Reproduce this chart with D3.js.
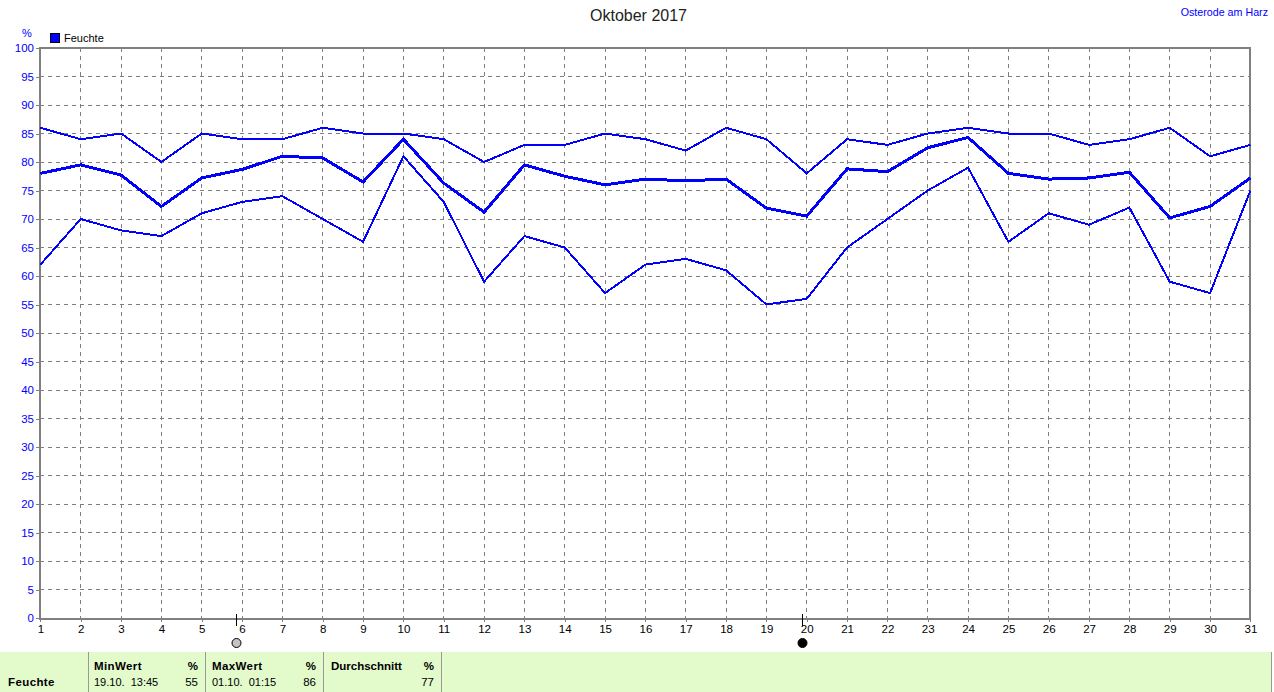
<!DOCTYPE html>
<html><head><meta charset="utf-8">
<script src="https://cdn.jsdelivr.net/npm/d3@7"></script>
<style>html,body{margin:0;padding:0;background:#fff}svg{display:block}text{font-family:"Liberation Sans",Arial,sans-serif}</style>
</head><body><div id="c"></div>
<script>
const days = d3.range(1,32);
const maxValues = [86,84,85,80,85,84,84,86,85,85,84,80,83,83,85,84,82,86,84,78,84,83,85,86,85,85,83,84,86,81,83];
const avgValues = [78,79.5,77.7,72.2,77.2,78.7,81,80.7,76.5,84,76.3,71.2,79.5,77.5,76,77,76.7,77,71.9,70.5,78.8,78.3,82.5,84.3,78,77,77.2,78.2,70.2,72.2,77.2];
const minValues = [62,70,68,67,71,73,74,70,66,81,73,59,67,65,57,62,63,61,55,56,65,70,75,79,66,71,69,72,59,57,75];
const yTicks = d3.range(0,101,5);
const moons = [{day:5.85,type:"full"},{day:19.88,type:"new"}];
const title = "Oktober 2017", station = "Osterode am Harz", seriesName = "Feuchte", unit = "%";
const panelColumns = [
 {x0:88,x1:205,pad:6,ls:0.4,head:"MinWert",when:"19.10.  13:45",val:"55"},
 {x0:205,x1:323,pad:7,ls:0.4,head:"MaxWert",when:"01.10.  01:15",val:"86"},
 {x0:323,x1:441,pad:8,ls:0,head:"Durchschnitt",when:"",val:"77"}];

const W=1274,H=692, L=40, R=1250, T=48, B=618;
const x=d3.scaleLinear().domain([1,31]).range([L+0.4,R+0.4]);
const y=d3.scaleLinear().domain([0,100]).range([B,T]);
const svg=d3.select("#c").append("svg").attr("width",W).attr("height",H);
const blue="#0000ff", grey="#808080";

const gy=svg.append("g").attr("transform",`translate(${L},0)`)
 .call(d3.axisLeft(y).tickValues(yTicks).tickSize(4).tickPadding(2));
gy.select(".domain").remove();
gy.selectAll("line").attr("stroke",grey).attr("shape-rendering","crispEdges");
gy.selectAll("text").attr("fill",blue).style("font-size","11.5px").style("font-family",'"Liberation Sans"');
const gx=svg.append("g").attr("transform",`translate(0,${B})`)
 .call(d3.axisBottom(x).tickValues(days).tickFormat(d3.format("d")).tickSize(4).tickPadding(3));
gx.select(".domain").remove();
gx.selectAll("line").attr("stroke",grey).attr("shape-rendering","crispEdges");
gx.selectAll("text").attr("fill","#000").style("font-size","11.5px").style("font-family",'"Liberation Sans"');

const grid=svg.append("g").attr("stroke",grey).attr("stroke-dasharray","4 4").attr("shape-rendering","crispEdges");
grid.selectAll(".h").data(yTicks.slice(1,-1)).join("line").attr("x1",L).attr("x2",R).attr("y1",d=>y(d)).attr("y2",d=>y(d));
grid.selectAll(".v").data(days.slice(1,-1)).join("line").attr("y1",T).attr("y2",B).attr("x1",d=>x(d)).attr("x2",d=>x(d));

svg.append("rect").attr("x",L-0.5).attr("y",T-0.5).attr("width",R-L).attr("height",B-T+1)
 .attr("fill","none").attr("stroke",grey).attr("stroke-width",2).attr("shape-rendering","crispEdges");

const line=d3.line().x((d,i)=>x(days[i])).y(d=>y(d));
[[maxValues,2],[minValues,2],[avgValues,3]].forEach(([v,w])=>{
 svg.append("path").datum(v).attr("d",line).attr("fill","none").attr("stroke",blue).attr("stroke-width",w).attr("stroke-linejoin","miter").attr("shape-rendering","crispEdges");
});

svg.append("text").attr("x",638.5).attr("y",21).attr("text-anchor","middle").style("font-size","16px").attr("fill","#222").text(title);
svg.append("text").attr("x",1268).attr("y",16).attr("text-anchor","end").style("font-size","10.7px").attr("fill",blue).text(station);
svg.append("text").attr("x",27).attr("y",37).attr("text-anchor","middle").style("font-size","11px").attr("fill",blue).text(unit);
svg.append("rect").attr("x",50.5).attr("y",33.5).attr("width",9).attr("height",9).attr("fill",blue).attr("stroke","#000").attr("shape-rendering","crispEdges");
svg.append("text").attr("x",64).attr("y",42).style("font-size","11px").attr("fill","#000").text(seriesName);

moons.forEach(m=>{
 const mx=Math.round(x(m.day))+0.5;
 svg.append("line").attr("x1",mx).attr("x2",mx).attr("y1",B-4).attr("y2",B+8).attr("stroke","#000").attr("shape-rendering","crispEdges");
 svg.append("circle").attr("cx",mx).attr("cy",643).attr("r",4.5)
  .attr("fill",m.type==="new"?"#000":"#c4c4c4").attr("stroke","#000");
});

const p=svg.append("g");
p.append("rect").attr("x",0).attr("y",652).attr("width",1272).attr("height",40).attr("fill","#e3facb");
[88,205,323,441,1271].forEach(v=>p.append("line").attr("x1",v+.5).attr("x2",v+.5).attr("y1",652).attr("y2",692).attr("stroke","#999").attr("stroke-width",1));
p.append("text").attr("x",8).attr("y",686).style("font-size","11.5px").style("letter-spacing","0.4px").style("font-weight","bold").attr("fill","#000").text(seriesName);
panelColumns.forEach(c=>{
 p.append("text").attr("x",c.x0+c.pad).attr("y",670).style("font-size","11.5px").style("letter-spacing",c.ls+"px").style("font-weight","bold").attr("fill","#000").text(c.head);
 p.append("text").attr("x",c.x1-7).attr("y",670).attr("text-anchor","end").style("font-size","11.5px").style("font-weight","bold").attr("fill","#000").text(unit);
 p.append("text").attr("x",c.x0+c.pad).attr("y",686).style("font-size","11px").style("white-space","pre").attr("fill","#000").text(c.when);
 p.append("text").attr("x",c.x1-7).attr("y",686).attr("text-anchor","end").style("font-size","11.5px").attr("fill","#000").text(c.val);
});
</script></body></html>
